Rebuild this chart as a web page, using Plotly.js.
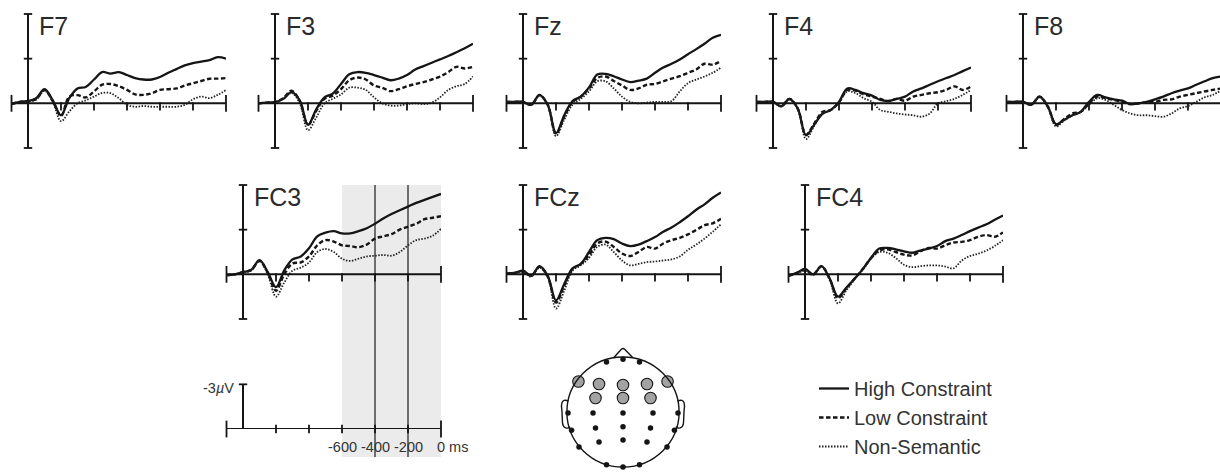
<!DOCTYPE html>
<html><head><meta charset="utf-8">
<script src="https://cdn.plot.ly/plotly-3.0.1.min.js"></script>
<style>html,body{margin:0;padding:0;background:#fff}#chart{width:1220px;height:472px}</style>
</head><body><div id="chart"></div>
<script>
// ---------- data (time in ms relative to target onset; voltage in µV, negative plotted up) ----------
const TIME = [-1300,-1250,-1200,-1150,-1100,-1050,-1000,-950,-900,-850,-800,-750,-700,-650,-600,-550,-500,-450,-400,-350,-300,-250,-200,-150,-100,-50,0];
const CONDITIONS = ['High Constraint','Low Constraint','Non-Semantic'];

const F7_HC = [0.05,-0.1,-0.15,-0.35,-0.95,-0.2,0.8,-0.35,-1.0,-1.1,-1.6,-2.1,-2.0,-2.1,-1.9,-1.7,-1.6,-1.6,-1.77,-2.05,-2.3,-2.55,-2.7,-2.8,-2.9,-3.1,-3.0];
const F7_LC = [0.05,-0.1,-0.15,-0.3,-0.9,-0.15,0.85,-0.45,-0.55,-0.4,-0.8,-1.25,-1.3,-1.15,-0.9,-0.6,-0.57,-0.68,-0.9,-0.95,-1.0,-1.2,-1.35,-1.5,-1.65,-1.66,-1.7];
const F7_NS = [0.05,-0.05,-0.1,-0.25,-0.85,-0.1,1.2,0.55,0.0,-0.2,-0.45,-0.7,-0.68,-0.35,0.1,0.23,0.18,0.23,0.23,0.23,0.23,0.1,-0.27,-0.45,-0.35,-0.57,-0.9];

const F3_HC = [0,-0.05,-0.07,-0.3,-0.75,-0.2,1.45,0.4,-0.4,-0.65,-1.3,-1.95,-2.1,-2.05,-1.9,-1.73,-1.55,-1.66,-1.9,-2.27,-2.5,-2.73,-2.95,-3.18,-3.43,-3.7,-4.0];
const F3_LC = [0,-0.05,-0.1,-0.35,-0.85,-0.15,1.45,0.5,-0.3,-0.52,-0.95,-1.55,-1.73,-1.6,-1.2,-1.05,-0.82,-0.95,-1.14,-1.3,-1.43,-1.6,-1.8,-2.1,-2.45,-2.34,-2.45];
const F3_NS = [0,-0.05,-0.1,-0.3,-0.7,0.0,1.8,0.95,0.0,-0.3,-0.6,-1.05,-1.05,-0.9,-0.4,0.0,0.15,0.15,0.05,0.0,0.05,-0.05,-0.4,-0.9,-1.15,-1.3,-1.8];

const FZ_HC = [-0.1,-0.1,-0.1,0.1,-0.57,0.1,2.0,0.8,-0.15,-0.45,-1.07,-1.93,-1.98,-1.82,-1.6,-1.43,-1.52,-1.66,-2.05,-2.4,-2.66,-2.95,-3.3,-3.64,-4.0,-4.4,-4.6];
const FZ_LC = [-0.1,-0.1,-0.1,0.1,-0.55,0.1,2.05,0.9,-0.1,-0.45,-1.0,-1.7,-1.8,-1.5,-1.2,-0.9,-1.0,-1.25,-1.3,-1.48,-1.66,-1.82,-2.05,-2.27,-2.66,-2.6,-2.84];
const FZ_NS = [-0.1,-0.1,-0.1,0.1,-0.5,0.15,2.2,1.1,0.1,-0.3,-0.8,-1.48,-1.48,-1.0,-0.45,-0.1,0.0,-0.05,-0.1,-0.1,-0.15,-0.8,-1.36,-1.6,-1.8,-2.05,-2.4];

const F4_HC = [-0.1,-0.1,-0.1,0.2,-0.3,0.35,2.15,1.43,0.7,0.45,-0.1,-1.0,-0.9,-0.68,-0.52,-0.23,-0.16,-0.3,-0.45,-0.8,-1.0,-1.25,-1.48,-1.7,-1.9,-2.16,-2.4];
const F4_LC = [-0.1,-0.1,-0.1,0.2,-0.3,0.35,2.1,1.36,0.57,0.45,-0.07,-0.9,-0.85,-0.6,-0.45,-0.3,-0.15,-0.3,-0.18,-0.45,-0.57,-0.68,-0.75,-0.9,-1.14,-0.9,-1.14];
const F4_NS = [-0.1,-0.1,-0.1,0.2,-0.25,0.4,2.4,1.5,0.68,0.45,-0.05,-0.8,-0.68,-0.34,-0.1,0.45,0.57,0.68,0.75,0.8,0.9,0.68,0.0,-0.15,-0.3,-0.57,-0.9];

const F8_HC = [-0.1,-0.1,-0.1,0.1,-0.45,0.2,1.4,1.1,0.8,0.57,-0.1,-0.57,-0.4,-0.27,-0.18,0.05,0.0,-0.1,-0.27,-0.45,-0.68,-0.86,-1.0,-1.25,-1.48,-1.7,-1.8];
const F8_LC = [-0.1,-0.1,-0.1,0.1,-0.45,0.2,1.45,1.05,0.68,0.57,0.0,-0.45,-0.34,-0.23,-0.1,0.05,0.0,-0.07,-0.1,-0.23,-0.27,-0.45,-0.57,-0.68,-0.8,-0.9,-1.0];
const F8_NS = [-0.1,-0.1,-0.1,0.1,-0.4,0.25,1.55,1.15,0.8,0.57,0.1,-0.34,-0.23,0.1,0.45,0.68,0.8,0.8,0.86,0.9,0.68,0.34,0.18,-0.1,-0.4,-0.57,-0.86];

const FC3_HC = [0.05,0.0,-0.15,-0.3,-0.95,-0.15,0.86,-0.27,-1.0,-1.2,-1.75,-2.55,-2.8,-2.9,-2.75,-2.75,-2.9,-3.1,-3.4,-3.75,-4.05,-4.3,-4.55,-4.8,-5.0,-5.2,-5.4];
const FC3_LC = [0.05,0.0,-0.15,-0.3,-0.9,-0.1,1.1,0.0,-0.73,-0.8,-1.2,-1.95,-2.3,-2.2,-1.95,-1.9,-1.82,-2.0,-2.4,-2.55,-2.7,-3.0,-3.2,-3.4,-3.7,-3.8,-3.9];
const FC3_NS = [0.05,0.0,-0.1,-0.25,-0.9,0.0,1.5,0.55,-0.25,-0.45,-0.8,-1.5,-1.7,-1.5,-1.05,-0.9,-1.05,-1.2,-1.25,-1.3,-1.25,-1.5,-1.95,-2.3,-2.4,-2.6,-3.05];

const FCZ_HC = [-0.05,-0.1,-0.25,0.1,-0.55,0.1,1.75,0.65,-0.4,-0.7,-1.5,-2.3,-2.45,-2.36,-2.07,-1.9,-2.0,-2.23,-2.5,-2.86,-3.14,-3.5,-3.9,-4.34,-4.7,-5.14,-5.5];
const FCZ_LC = [-0.05,-0.1,-0.2,0.1,-0.5,0.15,1.9,0.75,-0.35,-0.7,-1.27,-2.07,-2.2,-1.84,-1.4,-1.23,-1.5,-1.84,-1.73,-2.07,-2.3,-2.45,-2.68,-2.98,-3.3,-3.43,-3.73];
const FCZ_NS = [-0.05,-0.1,-0.15,0.15,-0.45,0.2,2.3,1.1,-0.25,-0.6,-1.1,-1.84,-2.0,-1.5,-0.93,-0.6,-0.7,-0.82,-0.86,-0.93,-1.0,-1.2,-1.65,-2.0,-2.4,-2.86,-3.36];

const FC4_HC = [0.1,-0.1,-0.36,0.0,-0.55,0.3,1.5,0.9,0.3,-0.35,-1.1,-1.73,-1.77,-1.68,-1.55,-1.45,-1.6,-1.73,-1.9,-2.23,-2.4,-2.64,-2.9,-3.14,-3.36,-3.66,-3.95];
const FC4_LC = [0.1,-0.1,-0.3,0.0,-0.55,0.3,1.6,0.95,0.3,-0.35,-1.1,-1.6,-1.68,-1.5,-1.32,-1.27,-1.55,-1.77,-1.73,-1.95,-2.14,-2.18,-2.3,-2.52,-2.64,-2.52,-2.82];
const FC4_NS = [0.1,-0.05,-0.25,0.05,-0.5,0.4,1.95,1.1,0.35,-0.3,-1.05,-1.5,-1.45,-1.1,-0.64,-0.48,-0.55,-0.6,-0.6,-0.52,-0.4,-0.93,-1.23,-1.39,-1.6,-1.9,-2.3];

const CHANNELS = ['F7','F3','Fz','F4','F8','FC3','FCz','FC4'];
const SERIES = {
  F7:[F7_HC,F7_LC,F7_NS], F3:[F3_HC,F3_LC,F3_NS], Fz:[FZ_HC,FZ_LC,FZ_NS], F4:[F4_HC,F4_LC,F4_NS],
  F8:[F8_HC,F8_LC,F8_NS], FC3:[FC3_HC,FC3_LC,FC3_NS], FCz:[FCZ_HC,FCZ_LC,FCZ_NS], FC4:[FC4_HC,FC4_LC,FC4_NS]
};

// axis tick values
const X_TICKS = [-1000,-800,-600,-400,-200];
const Y_TICKS = [-6,-3,3];
const ONSET = -1200;
const SCALE_TICK_T = [-600,-400,-200,0];
const SCALE_TICK_TEXT = ['-600','-400','-200','0 ms'];
const WINDOW = [-600,0];
const WINDOW_LINES = [-400,-200];

// electrode montage (head units, radius 1)
const SEL_NAMES = ['F7','F3','Fz','F4','F8','FC3','FCz','FC4'];
const SEL_X = [-0.81,-0.436,0,0.436,0.81,-0.5,0,0.5];
const SEL_Y = [0.555,0.51,0.49,0.51,0.555,0.255,0.255,0.255];
const OTHER_X = [-0.3,0,0.3,-1.0,-0.545,0,0.545,1.0,-0.935,-0.5,0,0.5,0.935,-0.8,-0.436,0,0.436,0.8,-0.3,0,0.3];
const OTHER_Y = [0.91,0.96,0.91,-0.02,-0.02,-0.02,-0.02,-0.02,-0.33,-0.29,-0.27,-0.29,-0.33,-0.636,-0.545,-0.51,-0.545,-0.636,-0.96,-1.0,-0.96];

// ---------- layout geometry ----------
const W = 1220, H = 472, K = 0.165, PXUV = 134/9;
const PANELS = [
  {ax:28, top:14},{ax:275, top:14},{ax:523, top:14},{ax:773, top:14},{ax:1023, top:14},
  {ax:243, top:185},{ax:523, top:185},{ax:805, top:185}
];
const fx = p => p / W, fy = p => 1 - p / H;
const FONT = 'Liberation Sans, Arial, Helvetica, sans-serif';
const INK = '#151515';
const STYLES = [
  {color:INK, width:2.3, dash:'solid'},
  {color:INK, width:2.4, dash:'4.5px,2.5px'},
  {color:'#222', width:1.8, dash:'1.5px,1.5px'}
];

const traces = [], shapes = [], annotations = [];
const layout = {
  width:W, height:H, margin:{l:0,r:0,t:0,b:0}, paper_bgcolor:'#fff', plot_bgcolor:'rgba(0,0,0,0)',
  showlegend:true, font:{family:FONT, color:'#333'},
  legend:{x:fx(814), y:fy(369), xanchor:'left', yanchor:'top', font:{size:20, color:'#333', family:FONT},
          bgcolor:'rgba(0,0,0,0)', tracegroupgap:0, itemwidth:30},
};

function axKeys(i){ return {xk: i===1?'xaxis':'xaxis'+i, yk: i===1?'yaxis':'yaxis'+i, xr: i===1?'x':'x'+i, yr: i===1?'y':'y'+i}; }
// tick marks drawn as line-shaped markers through the panel scales
function tickTrace(xr, yr, xs, ys, symbol, sizePx){
  traces.push({type:'scatter', mode:'markers', x:xs, y:ys, xaxis:xr, yaxis:yr, showlegend:false, hoverinfo:'skip',
    cliponaxis:false, marker:{symbol:symbol, size:sizePx, color:INK, line:{color:INK, width:1.8}}});
}

CHANNELS.forEach((ch, idx) => {
  const i = idx + 1, p = PANELS[idx], k = axKeys(i);
  const L = p.ax - 100*K, R = Math.min(p.ax + 1200*K, W);
  const xEnd = -1300 + (R - L)/K;
  layout[k.xk] = {domain:[fx(L), fx(R)], range:[-1300, xEnd], visible:false, anchor:k.yr, fixedrange:true};
  layout[k.yk] = {domain:[fy(p.top + 9*PXUV), fy(p.top)], range:[3, -6], visible:false, anchor:k.xr, fixedrange:true};
  shapes.push({type:'line', xref:k.xr, yref:k.yr, x0:-1300, x1:xEnd, y0:0, y1:0, line:{color:INK, width:2}});
  shapes.push({type:'line', xref:k.xr, yref:k.yr, x0:ONSET, x1:ONSET, y0:3, y1:-6, line:{color:INK, width:2}});
  // inner x ticks hang 6 px below the axis (centre offset 3 px)
  tickTrace(k.xr, k.yr, X_TICKS, X_TICKS.map(() => 3/PXUV), 'line-ns-open', 6);
  const caps = xEnd >= -0.5 ? [-1300, 0] : [-1300];
  tickTrace(k.xr, k.yr, caps, caps.map(() => 0), 'line-ns-open', 12);
  tickTrace(k.xr, k.yr, Y_TICKS.map(() => ONSET), Y_TICKS, 'line-ew-open', 6);
  SERIES[ch].forEach((vals, c) => {
    traces.push({type:'scatter', mode:'lines', x:TIME, y:vals, xaxis:k.xr, yaxis:k.yr, name:CONDITIONS[c],
      legendgroup:CONDITIONS[c], showlegend: idx===0, hoverinfo:'skip', cliponaxis:false,
      line:{color:STYLES[c].color, width:STYLES[c].width, dash:STYLES[c].dash, shape:'spline', smoothing:1}});
  });
  annotations.push({xref:k.xr, yref:k.yr, x:ONSET, y:-6, xanchor:'left', yanchor:'top', xshift:9, yshift:4,
    text:ch, showarrow:false, font:{size:25, color:'#2a2a2a', family:FONT}});
});

// scale bar panel (axis 9) shares FC3 horizontal geometry
{
  const p = PANELS[5];
  const L = p.ax - 100*K, R = p.ax + 1200*K;
  layout.xaxis9 = {domain:[fx(L), fx(R)], range:[-1300, 0], visible:false, anchor:'y9', fixedrange:true};
  layout.yaxis9 = {domain:[fy(429), fy(429 - 3*PXUV)], range:[0, -3], visible:false, anchor:'x9', fixedrange:true};
  shapes.push({type:'line', xref:'x9', yref:'y9', x0:-1300, x1:0, y0:0, y1:0, line:{color:INK, width:2}});
  shapes.push({type:'line', xref:'x9', yref:'y9', x0:ONSET, x1:ONSET, y0:0, y1:-3, line:{color:INK, width:2}});
  tickTrace('x9','y9', X_TICKS, X_TICKS.map(() => 0), 'line-ns-open', 6);
  tickTrace('x9','y9', [-1300, 0], [0, 0], 'line-ns-open', 12);
  tickTrace('x9','y9', [ONSET], [-3], 'line-ew-open', 6);
  SCALE_TICK_T.forEach((t, j) => annotations.push({xref:'x9', yref:'y9', x:t, y:0,
    xanchor: j === SCALE_TICK_T.length-1 ? 'left' : 'center', xshift: j === SCALE_TICK_T.length-1 ? -6 : 0,
    yanchor:'middle', yshift:-18, text:SCALE_TICK_TEXT[j], showarrow:false, font:{size:14.5, color:'#333', family:FONT}}));
  annotations.push({xref:'x9', yref:'y9', x:ONSET, y:-3, xanchor:'right', yanchor:'middle', xshift:-7, yshift:-4,
    text:'-3<i>µ</i>V', showarrow:false, font:{size:14.5, color:'#333', family:FONT}});
  // analysis window on FC3 extending down through the scale bar
  shapes.push({type:'rect', xref:'x6', yref:'paper', x0:WINDOW[0], x1:WINDOW[1], y0:fy(457), y1:fy(185),
    fillcolor:'#ebebeb', line:{width:0}, layer:'below'});
  WINDOW_LINES.forEach(t => shapes.push({type:'line', xref:'x6', yref:'paper', x0:t, x1:t, y0:fy(457), y1:fy(185),
    line:{color:'#6e6e6e', width:2}, layer:'below'}));
}

// head / montage (axis 10), 55 px per head radius
{
  const cx = 623, cy = 412, r = 55;
  layout.xaxis10 = {domain:[fx(555), fx(695)], range:[(555-cx)/r, (695-cx)/r], visible:false, anchor:'y10', fixedrange:true};
  layout.yaxis10 = {domain:[fy(472), fy(340)], range:[(cy-472)/r, (cy-340)/r], visible:false, anchor:'x10', fixedrange:true};
  const hl = {color:INK, width:1.4};
  shapes.push({type:'circle', xref:'x10', yref:'y10', x0:-1.02, x1:1.02, y0:-1.0, y1:1.0, line:hl});
  shapes.push({type:'path', xref:'x10', yref:'y10', line:hl,
    path:'M -0.99,0.2 C -1.13,0.26 -1.13,0.12 -1.11,0.02 L -1.1,-0.2 C -1.09,-0.3 -1.0,-0.31 -0.96,-0.27'});
  shapes.push({type:'path', xref:'x10', yref:'y10', line:hl,
    path:'M 0.99,0.2 C 1.13,0.26 1.13,0.12 1.11,0.02 L 1.1,-0.2 C 1.09,-0.3 1.0,-0.31 0.96,-0.27'});
  shapes.push({type:'path', xref:'x10', yref:'y10', line:hl,
    path:'M -0.17,0.985 L -0.03,1.14 Q 0,1.17 0.03,1.14 L 0.18,0.985'});
  traces.push({type:'scatter', mode:'markers', x:OTHER_X, y:OTHER_Y, xaxis:'x10', yaxis:'y10', showlegend:false,
    hoverinfo:'skip', marker:{size:5.5, color:INK, line:{width:0}}});
  traces.push({type:'scatter', mode:'markers', x:SEL_X, y:SEL_Y, text:SEL_NAMES, xaxis:'x10', yaxis:'y10', showlegend:false,
    hoverinfo:'text', marker:{size:11.5, color:'#a3a3a3', line:{width:1.1, color:INK}}});
}

layout.shapes = shapes;
layout.annotations = annotations;
Plotly.newPlot('chart', traces, layout, {staticPlot:true, displayModeBar:false});
</script></body></html>
